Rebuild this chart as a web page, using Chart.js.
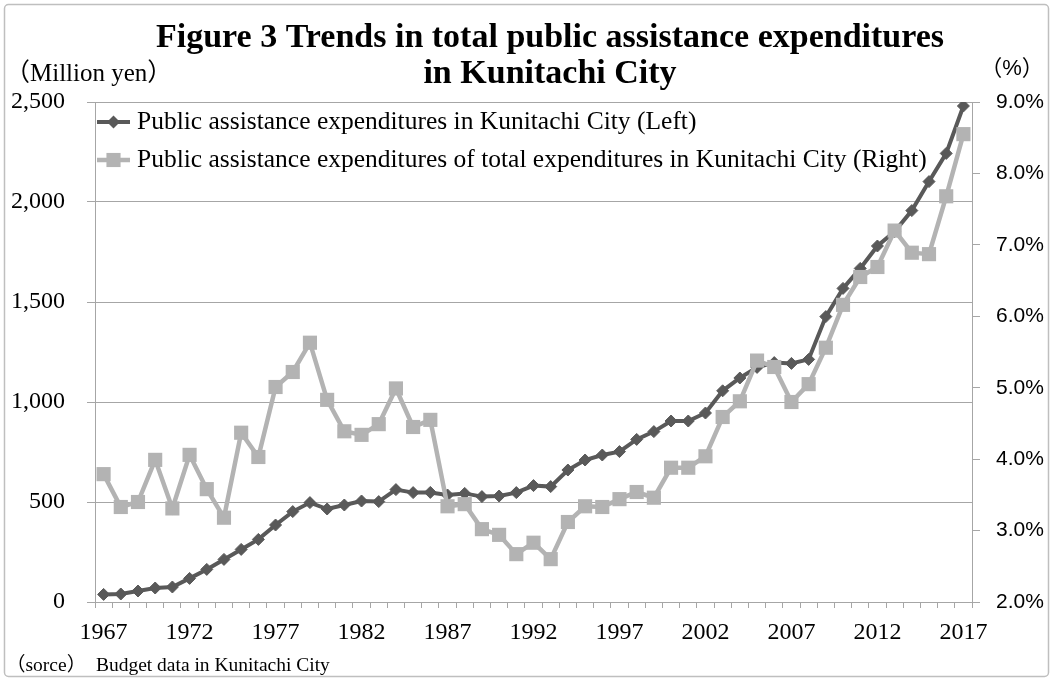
<!DOCTYPE html>
<html>
<head>
<meta charset="utf-8">
<script src="https://cdn.jsdelivr.net/npm/chart.js@4"></script>
<style>
  html, body { margin: 0; padding: 0; background: #ffffff; }
  #wrap { position: relative; width: 1053px; height: 681px; }
</style>
</head>
<body>
<div id="wrap"><canvas id="c" width="1053" height="681"></canvas></div>
<script>
const years = [1967,1968,1969,1970,1971,1972,1973,1974,1975,1976,
  1977,1978,1979,1980,1981,1982,1983,1984,1985,1986,
  1987,1988,1989,1990,1991,1992,1993,1994,1995,1996,
  1997,1998,1999,2000,2001,2002,2003,2004,2005,2006,
  2007,2008,2009,2010,2011,2012,2013,2014,2015,2016,2017];

const expenditureLeft = [38,40,55,70,75,118,163,213,263,313,
  385,452,497,465,485,505,502,562,547,548,
  535,543,527,530,547,582,577,660,710,735,
  752,813,852,905,905,945,1056,1120,1173,1197,
  1193,1213,1427,1568,1668,1780,1852,1957,2102,2243,2480];

const shareRight = [3.79,3.33,3.40,3.99,3.31,4.06,3.58,3.18,4.37,4.03,
  5.01,5.22,5.63,4.83,4.39,4.34,4.49,4.99,4.45,4.55,
  3.34,3.37,3.02,2.94,2.67,2.83,2.60,3.12,3.34,3.33,
  3.44,3.54,3.46,3.88,3.88,4.04,4.59,4.81,5.38,5.29,
  4.80,5.05,5.56,6.16,6.55,6.69,7.20,6.89,6.87,7.68,8.55];

const leftTicks = [0, 500, 1000, 1500, 2000, 2500];
const rightTicks = [2, 3, 4, 5, 6, 7, 8, 9];

const titleLines = ['Figure 3 Trends in total public assistance expenditures', 'in Kunitachi City'];
const seriesNames = ['Public assistance expenditures in Kunitachi City (Left)',
  'Public assistance expenditures of total expenditures in Kunitachi City (Right)'];
const leftUnit = '（Million yen）';
const rightUnit = '（%）';
const sourceNote = '（sorce）  Budget data in Kunitachi City';

const DARK = '#595959';
const LIGHT = '#b3b3b3';
const AXIS = '#a6a6a6';
const SERIF = '"Liberation Serif", "Times New Roman", "Noto Sans CJK JP", serif';
const SANS = '"Liberation Sans", Arial, "Noto Sans CJK JP", sans-serif';

const textPlugin = {
  id: 'textPlugin',
  afterDraw(chart) {
    const ctx = chart.ctx;
    ctx.save();
    // outer border
    ctx.strokeStyle = '#bfbfbf';
    ctx.lineWidth = 1.5;
    ctx.beginPath();
    if (ctx.roundRect) ctx.roundRect(4.5, 4.5, 1044, 672, 4); else ctx.rect(4.5, 4.5, 1044, 672);
    ctx.stroke();

    ctx.fillStyle = '#000';
    ctx.textAlign = 'center';
    ctx.textBaseline = 'alphabetic';
    ctx.font = 'bold 34px ' + SERIF;
    ctx.fillText(titleLines[0], 550, 47);
    ctx.fillText(titleLines[1], 550, 83);

    ctx.font = '25px ' + SERIF;
    ctx.textAlign = 'left';
    ctx.fillText(leftUnit, 5, 81);
    ctx.font = '22px ' + SANS;
    ctx.textAlign = 'center';
    ctx.fillText(rightUnit, 1012, 75);

    ctx.font = '19.5px ' + SERIF;
    ctx.textAlign = 'left';
    ctx.fillText(sourceNote, 6, 671);

    // legend
    const ds = chart.data.datasets;
    const rows = [{ y: 122, i: 0 }, { y: 160, i: 1 }];
    ctx.font = '25.5px ' + SERIF;
    ctx.textBaseline = 'middle';
    rows.forEach(r => {
      const d = ds[r.i];
      ctx.strokeStyle = d.borderColor;
      ctx.lineWidth = d.borderWidth;
      ctx.beginPath();
      ctx.moveTo(97, r.y);
      ctx.lineTo(130, r.y);
      ctx.stroke();
      ctx.fillStyle = d.pointBackgroundColor;
      ctx.beginPath();
      if (d.pointStyle === 'rect') {
        const s = d.pointRadius * Math.SQRT1_2;
        ctx.rect(113.5 - s, r.y - s, 2 * s, 2 * s);
      } else {
        const rr = d.pointRadius + 0.5;
        ctx.moveTo(113.5 - rr, r.y); ctx.lineTo(113.5, r.y - rr);
        ctx.lineTo(113.5 + rr, r.y); ctx.lineTo(113.5, r.y + rr); ctx.closePath();
      }
      ctx.fill();
      ctx.fillStyle = '#000';
      ctx.fillText(seriesNames[r.i], 137, r.y);
    });
    ctx.restore();
  }
};

new Chart(document.getElementById('c'), {
  type: 'line',
  data: {
    labels: years,
    datasets: [
      {
        label: seriesNames[0],
        data: expenditureLeft,
        yAxisID: 'y',
        borderColor: DARK,
        backgroundColor: DARK,
        pointBackgroundColor: DARK,
        pointBorderColor: DARK,
        borderWidth: 4,
        pointStyle: 'rectRot',
        pointRadius: 6,
        pointBorderWidth: 1,
        tension: 0,
        order: 2
      },
      {
        label: seriesNames[1],
        data: shareRight,
        yAxisID: 'y1',
        borderColor: LIGHT,
        backgroundColor: LIGHT,
        pointBackgroundColor: LIGHT,
        pointBorderColor: LIGHT,
        borderWidth: 4.5,
        pointStyle: 'rect',
        pointRadius: 10,
        pointBorderWidth: 0,
        tension: 0,
        order: 1
      }
    ]
  },
  options: {
    responsive: false,
    animation: false,
    devicePixelRatio: 1,
    layout: { padding: { top: 102, bottom: 39, left: 0, right: 0 } },
    plugins: {
      legend: { display: false },
      title: { display: false },
      tooltip: { enabled: false }
    },
    scales: {
      x: {
        type: 'category',
        offset: true,
        afterFit(s) { s.height = 40; },
        grid: { display: true, offset: true, drawOnChartArea: false, drawTicks: true, tickLength: 6, color: AXIS },
        border: { display: true, color: AXIS, width: 1 },
        ticks: {
          autoSkip: false,
          maxRotation: 0,
          padding: 10,
          color: '#000',
          font: { family: SERIF, size: 24 },
          callback(v, i) { return i % 5 === 0 ? String(years[i]) : ''; }
        }
      },
      y: {
        position: 'left',
        min: leftTicks[0],
        max: leftTicks[leftTicks.length - 1],
        afterFit(s) { s.width = 95; },
        afterBuildTicks(s) { s.ticks = leftTicks.map(v => ({ value: v })); },
        grid: { color: AXIS, lineWidth: 1, tickLength: 8, drawTicks: true },
        border: { display: true, color: AXIS, width: 1 },
        ticks: {
          padding: 22,
          color: '#000',
          font: { family: SERIF, size: 24 },
          callback(v) { return v.toLocaleString('en-US'); }
        }
      },
      y1: {
        position: 'right',
        min: rightTicks[0],
        max: rightTicks[rightTicks.length - 1],
        afterFit(s) { s.width = 81; },
        afterBuildTicks(s) { s.ticks = rightTicks.map(v => ({ value: v })); },
        grid: { drawOnChartArea: false, color: AXIS, tickLength: 8, drawTicks: true },
        border: { display: true, color: AXIS, width: 1 },
        ticks: {
          padding: 16,
          color: '#000',
          font: { family: SANS, size: 21 },
          callback(v) { return Number(v).toFixed(1) + '%'; }
        }
      }
    }
  },
  plugins: [textPlugin]
});
</script>
</body>
</html>
